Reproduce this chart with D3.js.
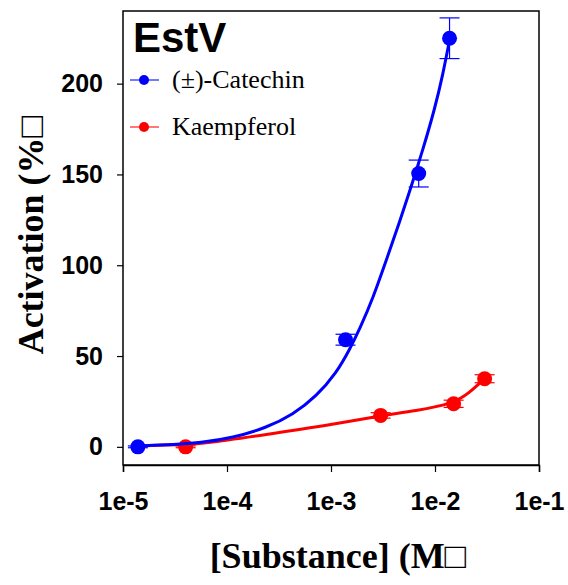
<!DOCTYPE html>
<html>
<head>
<meta charset="utf-8">
<script src="https://cdn.jsdelivr.net/npm/d3@7"></script>
<style>
  body { margin: 0; background: #fff; }
</style>
</head>
<body>
<div id="chart"></div>
<script>
// measured points (concentration in M, activation in %)
const catechinX = [1.39e-5, 1.38e-3, 6.97e-3, 1.38e-2];
const catechinY = [0, 59, 150.5, 225];
const catechinErr = [0.5, 3, 7.4, 11.2];

const kaempX = [4.0e-5, 3.0e-3, 1.51e-2, 3.0e-2];
const kaempY = [0, 17.3, 23.7, 37.5];
const kaempErr = [0.5, 1.5, 2, 2.2];

// fitted curves
const catFitX = [1.39e-5, 3.16e-5, 5.47e-5, 1.14e-4, 2.39e-4, 4.32e-4, 7.24e-4, 1.13e-3, 1.51e-3, 1.89e-3, 2.54e-3, 3.41e-3, 4.58e-3, 5.93e-3, 7.67e-3, 9.93e-3, 1.19e-2, 1.38e-2];
const catFitY = [0.5, 1.2, 2.2, 5.0, 10.5, 17.8, 27.9, 40.8, 53.6, 65, 82, 103, 124, 143.7, 163.9, 186, 205, 224];

const kaeFitX = [1.39e-5, 4.0e-5, 5.47e-5, 2.39e-4, 1.05e-3, 2.75e-3, 6.6e-3, 1.51e-2, 2.15e-2, 3.0e-2];
const kaeFitY = [0.5, 1.3, 1.6, 6.8, 12.3, 16.9, 19.8, 23.9, 29.8, 37.6];

const xTicks = [1e-5, 1e-4, 1e-3, 1e-2, 1e-1];
const yTicks = [0, 50, 100, 150, 200];

const width = 568, height = 585;
const m = { left: 123, right: 539, top: 11, bottom: 465 };

const svg = d3.select("#chart").append("svg")
    .attr("width", width)
    .attr("height", height);

const x = d3.scaleLog().domain([1e-5, 1e-1]).range([m.left, m.right]);
const y = d3.scaleLinear().domain([-10, 240]).range([m.bottom, m.top]);

// frame
svg.append("rect")
    .attr("x", m.left).attr("y", m.top)
    .attr("width", m.right - m.left).attr("height", m.bottom - m.top)
    .attr("fill", "none").attr("stroke", "#000").attr("stroke-width", 1.5);

// x axis
const xAxis = svg.append("g")
    .attr("transform", `translate(0,${m.bottom})`)
    .call(d3.axisBottom(x).tickValues(xTicks).tickSize(7).tickPadding(20)
        .tickFormat(d => "1e" + Math.round(Math.log10(d))));
xAxis.select(".domain").attr("stroke-width", 1.5);
xAxis.selectAll("line").attr("stroke-width", 1.2);
xAxis.selectAll("text")
    .attr("font-family", "Liberation Sans, Arial, sans-serif")
    .attr("font-weight", "bold")
    .attr("font-size", 25)
    .attr("fill", "#000");

// y axis
const yAxis = svg.append("g")
    .attr("transform", `translate(${m.left},0)`)
    .call(d3.axisLeft(y).tickValues(yTicks).tickSize(6).tickPadding(14));
yAxis.select(".domain").remove();
yAxis.selectAll("line").attr("stroke-width", 1.2);
yAxis.selectAll("text")
    .attr("font-family", "Liberation Sans, Arial, sans-serif")
    .attr("font-weight", "bold")
    .attr("font-size", 25)
    .attr("fill", "#000");

// axis titles
svg.append("text")
    .attr("transform", "translate(43,235) rotate(-90)")
    .attr("text-anchor", "middle")
    .attr("font-family", "Liberation Serif, Times New Roman, serif")
    .attr("font-weight", "bold")
    .attr("font-size", 36)
    .text("Activation (%\u25A1");

svg.append("text")
    .attr("x", 338).attr("y", 568)
    .attr("text-anchor", "middle")
    .attr("font-family", "Liberation Serif, Times New Roman, serif")
    .attr("font-weight", "bold")
    .attr("font-size", 36)
    .text("[Substance] (M\u25A1");

// title
svg.append("text")
    .attr("x", 133).attr("y", 52)
    .attr("font-family", "Liberation Sans, Arial, sans-serif")
    .attr("font-weight", "bold")
    .attr("font-size", 42)
    .text("EstV");

// basis curve smooths out reading noise, still ends on the end points
const line = d3.line()
    .x(d => x(d[0]))
    .y(d => y(d[1]))
    .curve(d3.curveBasis);

const series = [
    { name: "(\u00B1)-Catechin", color: "#0000ff", xs: catechinX, ys: catechinY, err: catechinErr, fx: catFitX, fy: catFitY },
    { name: "Kaempferol", color: "#ff0000", xs: kaempX, ys: kaempY, err: kaempErr, fx: kaeFitX, fy: kaeFitY }
];

// draw red first so blue sits on top
series.slice().reverse().forEach(s => {
    svg.append("path")
        .datum(d3.zip(s.fx, s.fy))
        .attr("d", line)
        .attr("fill", "none")
        .attr("stroke", s.color)
        .attr("stroke-width", 3);

    const pts = d3.zip(s.xs, s.ys, s.err);
    const g = svg.append("g");
    pts.forEach(p => {
        const cx = x(p[0]);
        g.append("line")
            .attr("x1", cx).attr("x2", cx)
            .attr("y1", y(p[1] - p[2])).attr("y2", y(p[1] + p[2]))
            .attr("stroke", s.color).attr("stroke-width", 1.2);
        [p[1] - p[2], p[1] + p[2]].forEach(v => {
            g.append("line")
                .attr("x1", cx - 10).attr("x2", cx + 10)
                .attr("y1", y(v)).attr("y2", y(v))
                .attr("stroke", s.color).attr("stroke-width", 1.2);
        });
    });
    g.selectAll("circle")
        .data(pts)
        .enter().append("circle")
        .attr("cx", d => x(d[0]))
        .attr("cy", d => y(d[1]))
        .attr("r", 7.5)
        .attr("fill", s.color);
});

// legend
series.forEach((s, i) => {
    const ly = 80 + i * 47;
    svg.append("line")
        .attr("x1", 130).attr("x2", 159)
        .attr("y1", ly).attr("y2", ly)
        .attr("stroke", s.color).attr("stroke-width", 1.5).attr("opacity", 0.7);
    svg.append("circle")
        .attr("cx", 144).attr("cy", ly).attr("r", 5)
        .attr("fill", s.color);
    svg.append("text")
        .attr("x", 172).attr("y", ly + 8)
        .attr("font-family", "Liberation Serif, Times New Roman, serif")
        .attr("font-size", 26)
        .text(s.name);
});
</script>
</body>
</html>
